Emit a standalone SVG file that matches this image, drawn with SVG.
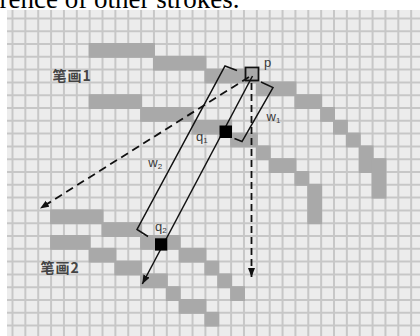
<svg xmlns="http://www.w3.org/2000/svg" width="420" height="336" viewBox="0 0 420 336">
<defs>
<style>
.grid{stroke:#c7c7c7;stroke-width:2;fill:none}
.cell{fill:#a9a9a9}
.lbl{font-family:"Liberation Sans",Arial,sans-serif;fill:#3a3a3a;font-size:13px}
.sub{font-size:8px}
.cjk{font-family:"Noto Sans CJK SC","Noto Sans CJK JP",sans-serif;font-weight:bold;font-size:14px;fill:#444}
.bk{fill:none;stroke:#111;stroke-width:1.5}
.solid{fill:none;stroke:#111;stroke-width:1.5}
.dash{fill:none;stroke:#111;stroke-width:1.8}
</style>
<marker id="ah" markerUnits="userSpaceOnUse" markerWidth="10" markerHeight="8" refX="9" refY="3.5" orient="auto"><path d="M0,0 L9,3.5 L0,7 z" fill="#111"/></marker>
</defs>
<rect width="420" height="336" fill="#fff"/>
<text x="-0.5" y="8.3" font-family="Liberation Serif,Times New Roman,serif" font-size="27" fill="#000">rence of other strokes.</text>
<rect x="7" y="10" width="413" height="326" fill="#ececec"/>
<g id="grid" class="grid">
<path d="M12.5 10V336M25.36 10V336M38.22 10V336M51.08 10V336M63.94 10V336M76.8 10V336M89.66 10V336M102.52 10V336M115.38 10V336M128.24 10V336M141.1 10V336M153.96 10V336M166.82 10V336M179.68 10V336M192.54 10V336M205.4 10V336M218.26 10V336M231.12 10V336M243.98 10V336M256.84 10V336M269.7 10V336M282.56 10V336M295.42 10V336M308.28 10V336M321.14 10V336M334 10V336M346.86 10V336M359.72 10V336M372.58 10V336M385.44 10V336M398.3 10V336M411.16 10V336"/>
<path d="M7 18.4H420M7 31.2H420M7 44H420M7 56.8H420M7 69.6H420M7 82.4H420M7 95.2H420M7 108H420M7 120.8H420M7 133.6H420M7 146.4H420M7 159.2H420M7 172H420M7 184.8H420M7 197.6H420M7 210.4H420M7 223.2H420M7 236H420M7 248.8H420M7 261.6H420M7 274.4H420M7 287.2H420M7 300H420M7 312.8H420M7 325.6H420"/>
</g>
<g id="stroke1" class="cell">
<rect x="88.66" y="43" width="66.3" height="14.8"/>
<rect x="152.96" y="55.8" width="53.44" height="14.8"/>
<rect x="204.4" y="68.6" width="53.44" height="14.8"/>
<rect x="255.84" y="81.4" width="40.58" height="14.8"/>
<rect x="294.42" y="94.2" width="27.72" height="14.8"/>
<rect x="320.14" y="107" width="14.86" height="14.8"/>
<rect x="333" y="119.8" width="14.86" height="14.8"/>
<rect x="345.86" y="132.6" width="14.86" height="14.8"/>
<rect x="358.72" y="145.4" width="14.86" height="27.6"/>
<rect x="371.58" y="158.2" width="14.86" height="40.4"/>
<rect x="88.66" y="94.2" width="53.44" height="14.8"/>
<rect x="140.1" y="107" width="53.44" height="14.8"/>
<rect x="191.54" y="119.8" width="40.58" height="14.8"/>
<rect x="230.12" y="132.6" width="27.72" height="14.8"/>
<rect x="255.84" y="145.4" width="14.86" height="14.8"/>
<rect x="268.7" y="158.2" width="27.72" height="14.8"/>
<rect x="294.42" y="171" width="14.86" height="14.8"/>
<rect x="307.28" y="183.8" width="14.86" height="40.4"/>
</g>
<g id="stroke2" class="cell">
<rect x="50.08" y="209.4" width="53.44" height="14.8"/>
<rect x="101.52" y="222.2" width="40.58" height="14.8"/>
<rect x="140.1" y="235" width="40.58" height="14.8"/>
<rect x="178.68" y="247.8" width="27.72" height="14.8"/>
<rect x="204.4" y="260.6" width="14.86" height="14.8"/>
<rect x="217.26" y="273.4" width="14.86" height="14.8"/>
<rect x="230.12" y="286.2" width="14.86" height="14.8"/>
<rect x="50.08" y="235" width="40.58" height="14.8"/>
<rect x="88.66" y="247.8" width="27.72" height="14.8"/>
<rect x="114.38" y="260.6" width="27.72" height="14.8"/>
<rect x="140.1" y="273.4" width="27.72" height="14.8"/>
<rect x="165.82" y="286.2" width="14.86" height="14.8"/>
<rect x="178.68" y="299" width="27.72" height="14.8"/>
<rect x="204.4" y="311.8" width="14.86" height="14.8"/>
</g>
<g id="label-stroke1"><text class="cjk" x="52.5" y="80.8" letter-spacing="1">笔画1</text></g>
<g id="label-stroke2"><text class="cjk" x="40.5" y="272.6" letter-spacing="1">笔画2</text></g>
<g id="brackets">
<polyline id="w2-bracket" class="bk" points="237,70.5 225,66 137,229.5 148,236.5"/>
<polyline id="w1-bracket" class="bk" points="261,82 273,87.5 242,141.5 234.5,138.5"/>
</g>
<g id="connectors">
<line class="dash" x1="249" y1="77" x2="40" y2="208.5" stroke-dasharray="8 5" marker-end="url(#ah)"/>
<line class="dash" x1="251.5" y1="83" x2="251.5" y2="277" stroke-dasharray="7 4" marker-end="url(#ah)"/>
<line class="solid" x1="252.5" y1="76" x2="142.3" y2="284" marker-end="url(#ah)"/>
</g>
<g id="p"><rect x="245.5" y="67.5" width="13" height="13" fill="none" stroke="#111" stroke-width="1.8"/><text class="lbl" x="264" y="67">p</text></g>
<g id="q1"><rect x="219.5" y="125.5" width="12.5" height="12.5" fill="#000"/><text class="lbl" x="196" y="141">q<tspan class="sub" dy="2">1</tspan></text></g>
<g id="q2"><rect x="155" y="238.3" width="12.3" height="12.3" fill="#000"/><text class="lbl" x="155" y="231">q<tspan class="sub" dy="2">2</tspan></text></g>
<g id="w1"><text class="lbl" x="266.5" y="121">w<tspan class="sub" dy="2">1</tspan></text></g>
<g id="w2"><text class="lbl" x="148.3" y="167">w<tspan class="sub" dy="2">2</tspan></text></g>
</svg>
